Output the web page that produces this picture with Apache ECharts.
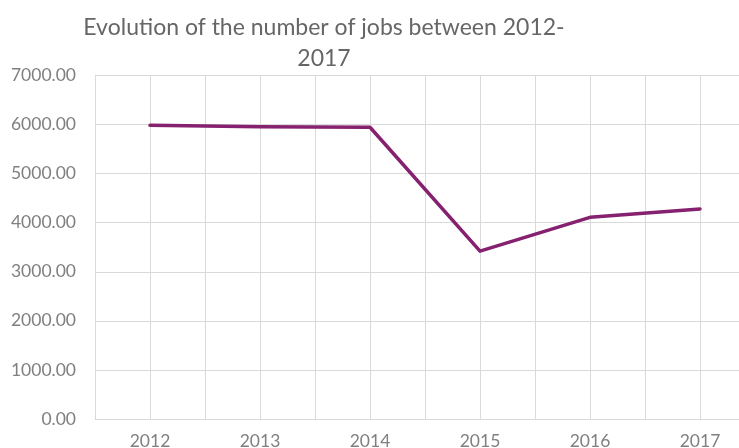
<!DOCTYPE html>
<html>
<head>
<meta charset="utf-8">
<script src="https://cdn.jsdelivr.net/npm/echarts@6/dist/echarts.min.js"></script>
<style>
  html, body { margin: 0; padding: 0; background: #fff; }
  #chart { width: 739px; height: 448px; }
</style>
</head>
<body>
<div id="chart"></div>
<script>
// Jobs per year, 2012-2017
const years = ['2012', '2013', '2014', '2015', '2016', '2017'];
const jobs = [5985, 5955, 5945, 3420, 4110, 4280];
const yTicks = [0, 1000, 2000, 3000, 4000, 5000, 6000, 7000];
const titleText = 'Evolution of the number of jobs between 2012-\n2017';

const font = 'Lato';
const labelColor = '#808080';
const gridColor = '#d9d9d9';

const chart = echarts.init(document.getElementById('chart'));
chart.setOption({
  animation: false,
  graphic: [{
    type: 'text',
    x: 324,
    y: 12,
    style: {
      text: titleText,
      align: 'center',
      verticalAlign: 'top',
      fontFamily: font,
      fontSize: 23,
      lineHeight: 31,
      fill: '#666666'
    }
  }],
  // plot runs past the right edge of the canvas
  grid: { left: 95, width: 660, top: 75.5, height: 343.5, outerBoundsMode: 'none' },
  xAxis: {
    // one gridline per category centre and one per category boundary
    type: 'value',
    min: -0.5,
    max: years.length - 0.5,
    interval: 0.5,
    axisLine: { show: true, lineStyle: { color: gridColor, width: 1 } },
    axisTick: { show: false },
    splitLine: { show: true, lineStyle: { color: gridColor, width: 1 } },
    axisLabel: {
      margin: 13,
      fontFamily: font,
      fontSize: 17.5,
      color: labelColor,
      formatter: v => Number.isInteger(v) ? years[v] : ''
    }
  },
  yAxis: {
    type: 'value',
    min: yTicks[0],
    max: yTicks[yTicks.length - 1],
    interval: yTicks[1] - yTicks[0],
    axisLine: { show: false },
    axisTick: { show: false },
    splitLine: { show: true, lineStyle: { color: gridColor, width: 1 } },
    axisLabel: {
      margin: 19,
      fontFamily: font,
      fontSize: 17.5,
      color: labelColor,
      formatter: v => v.toFixed(2)
    }
  },
  series: [{
    type: 'line',
    data: jobs.map((v, i) => [i, v]),
    showSymbol: false,
    symbol: 'none',
    lineStyle: { color: '#85216f', width: 3.5, cap: 'round', join: 'round' }
  }]
});
</script>
</body>
</html>
